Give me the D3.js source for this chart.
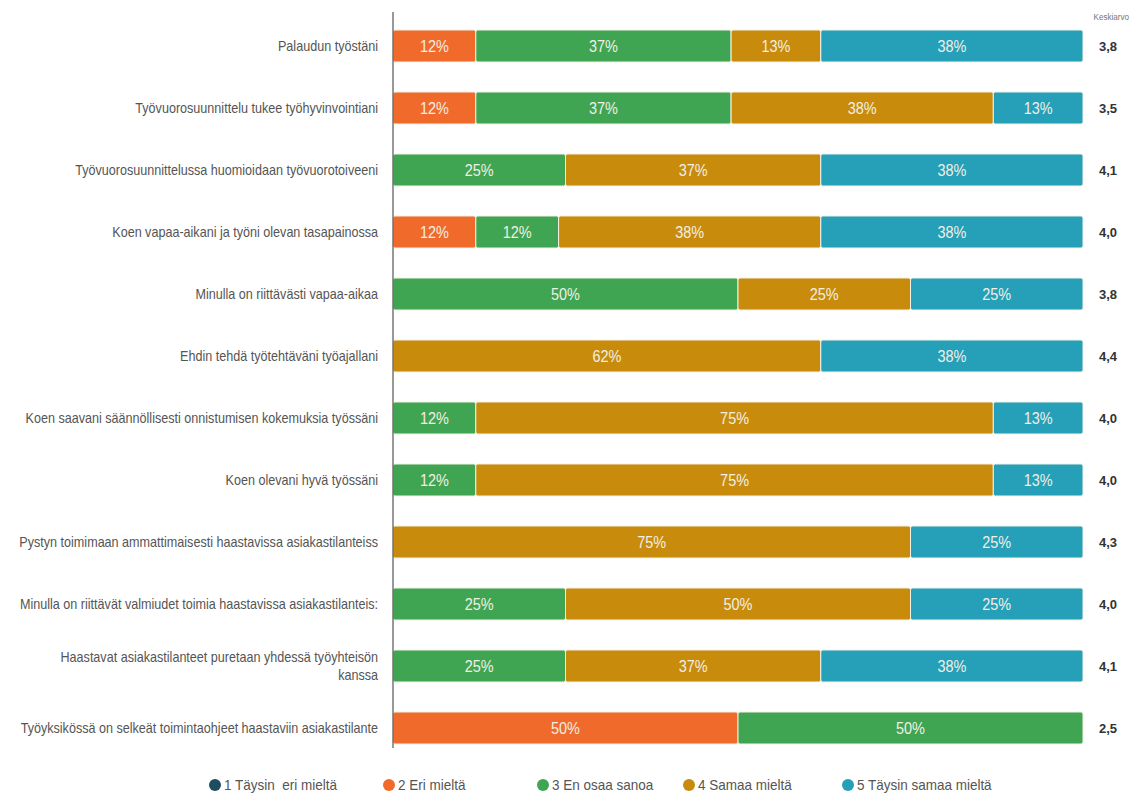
<!DOCTYPE html>
<html>
<head>
<meta charset="utf-8">
<script src="https://cdn.jsdelivr.net/npm/d3@7"></script>
<style>
  body { margin: 0; background: #fff; }
  svg { display: block; font-family: 'Liberation Sans', Arial, sans-serif; }
</style>
</head>
<body>
<svg id="chart" width="1131" height="798"></svg>
<script>
const categories = [
  'Palaudun työstäni',
  'Työvuorosuunnittelu tukee työhyvinvointiani',
  'Työvuorosuunnittelussa huomioidaan työvuorotoiveeni',
  'Koen vapaa-aikani ja työni olevan tasapainossa',
  'Minulla on riittävästi vapaa-aikaa',
  'Ehdin tehdä työtehtäväni työajallani',
  'Koen saavani säännöllisesti onnistumisen kokemuksia työssäni',
  'Koen olevani hyvä työssäni',
  'Pystyn toimimaan ammattimaisesti haastavissa asiakastilanteiss',
  'Minulla on riittävät valmiudet toimia haastavissa asiakastilanteis:',
  'Haastavat asiakastilanteet puretaan yhdessä työyhteisön kanssa',
  'Työyksikössä on selkeät toimintaohjeet haastaviin asiakastilante'
];
const seriesNames = ['1 Täysin  eri mieltä', '2 Eri mieltä', '3 En osaa sanoa', '4 Samaa mieltä', '5 Täysin samaa mieltä'];
const seriesColors = ['#1d4d5e', '#ef6a2b', '#40a552', '#c88b0b', '#25a0b8'];
const taysinEri = [0, 0, 0, 0, 0, 0, 0, 0, 0, 0, 0, 0];
const eriMielta = [12, 12, 0, 12, 0, 0, 0, 0, 0, 0, 0, 50];
const enOsaa = [37, 37, 25, 12, 50, 0, 12, 12, 0, 25, 25, 50];
const samaa = [13, 38, 37, 38, 25, 62, 75, 75, 75, 50, 37, 0];
const taysinSamaa = [38, 13, 38, 38, 25, 38, 13, 13, 25, 25, 38, 0];
const averages = [3.8, 3.5, 4.1, 4.0, 3.8, 4.4, 4.0, 4.0, 4.3, 4.0, 4.1, 2.5];

const seriesValues = [taysinEri, eriMielta, enOsaa, samaa, taysinSamaa];
const rows = categories.map(function (c, i) {
  const r = { category: c };
  seriesNames.forEach(function (s, k) { r[s] = seriesValues[k][i]; });
  return r;
});

const svg = d3.select('#chart');
const x = d3.scaleLinear().domain([0, 100]).range([393, 1083]);
const y = d3.scaleBand().domain(categories).range([15, 759])
  .paddingInner(0.484).paddingOuter(0.242);
const color = d3.scaleOrdinal().domain(seriesNames).range(seriesColors);

// the reference uses a condensed face; squeeze Liberation Sans horizontally
function squeeze(px, py, s) {
  return 'translate(' + px + ',' + py + ') scale(' + s + ',1)';
}

const stacked = d3.stack().keys(seriesNames)(rows);

// bars
const layer = svg.append('g').selectAll('g')
  .data(stacked)
  .enter()
  .append('g')
  .attr('fill', function (d) { return color(d.key); });

layer.selectAll('rect')
  .data(function (d) { return d; })
  .enter()
  .filter(function (d) { return d[1] - d[0] > 0; })
  .append('rect')
  .attr('x', function (d) { return x(d[0]); })
  .attr('y', function (d) { return y(d.data.category); })
  .attr('width', function (d) { return x(d[1]) - x(d[0]); })
  .attr('height', y.bandwidth())
  .attr('rx', 2)
  .attr('stroke', '#f4f1e4')
  .attr('stroke-width', 1);

layer.selectAll('text')
  .data(function (d) { return d; })
  .enter()
  .filter(function (d) { return d[1] - d[0] > 0; })
  .append('text')
  .attr('transform', function (d) {
    return squeeze((x(d[0]) + x(d[1])) / 2, y(d.data.category) + y.bandwidth() / 2, 0.85);
  })
  .attr('dy', '0.36em')
  .attr('text-anchor', 'middle')
  .attr('fill', '#f1efe6')
  .style('font-size', '17px')
  .text(function (d) { return (d[1] - d[0]) + '%'; });

// category labels
const labels = svg.append('g').selectAll('text')
  .data(categories)
  .enter()
  .append('text')
  .attr('transform', function (d) { return squeeze(378, y(d) + y.bandwidth() / 2, 0.9); })
  .attr('text-anchor', 'end')
  .attr('fill', '#555')
  .style('font-size', '14px');

labels.each(function (d) {
  const t = d3.select(this);
  if (d.indexOf('puretaan') > 0) {
    t.append('tspan').attr('x', 0).attr('dy', '-0.3em').text('Haastavat asiakastilanteet puretaan yhdessä työyhteisön');
    t.append('tspan').attr('x', 0).attr('dy', '1.3em').text('kanssa');
  } else {
    t.attr('dy', '0.36em').text(d);
  }
});

// axis line
svg.append('line')
  .attr('x1', 393).attr('x2', 393)
  .attr('y1', 12).attr('y2', 748)
  .attr('stroke', '#333').attr('stroke-width', 1);

// averages
svg.append('text')
  .attr('transform', squeeze(1129, 20, 0.9))
  .attr('text-anchor', 'end')
  .attr('fill', '#777')
  .style('font-size', '9px')
  .text('Keskiarvo');

svg.append('g').selectAll('text')
  .data(averages)
  .enter()
  .append('text')
  .attr('x', 1108)
  .attr('y', function (d, i) { return y(categories[i]) + y.bandwidth() / 2; })
  .attr('dy', '0.36em')
  .attr('text-anchor', 'middle')
  .attr('fill', '#333')
  .style('font-size', '13px')
  .style('font-weight', 'bold')
  .text(function (d) { return d3.format('.1f')(d).replace('.', ','); });

// legend
const legendX = [215, 389, 543, 689, 848];
const legend = svg.append('g').selectAll('g')
  .data(seriesNames)
  .enter()
  .append('g')
  .attr('transform', function (d, i) { return 'translate(' + legendX[i] + ',785)'; });

legend.append('circle')
  .attr('r', 6)
  .attr('fill', function (d) { return color(d); });

legend.append('text')
  .attr('transform', squeeze(9, 0, 0.9))
  .attr('dy', '0.36em')
  .attr('fill', '#555')
  .style('font-size', '15px')
  .style('white-space', 'pre')
  .text(function (d) { return d; });
</script>
</body>
</html>
